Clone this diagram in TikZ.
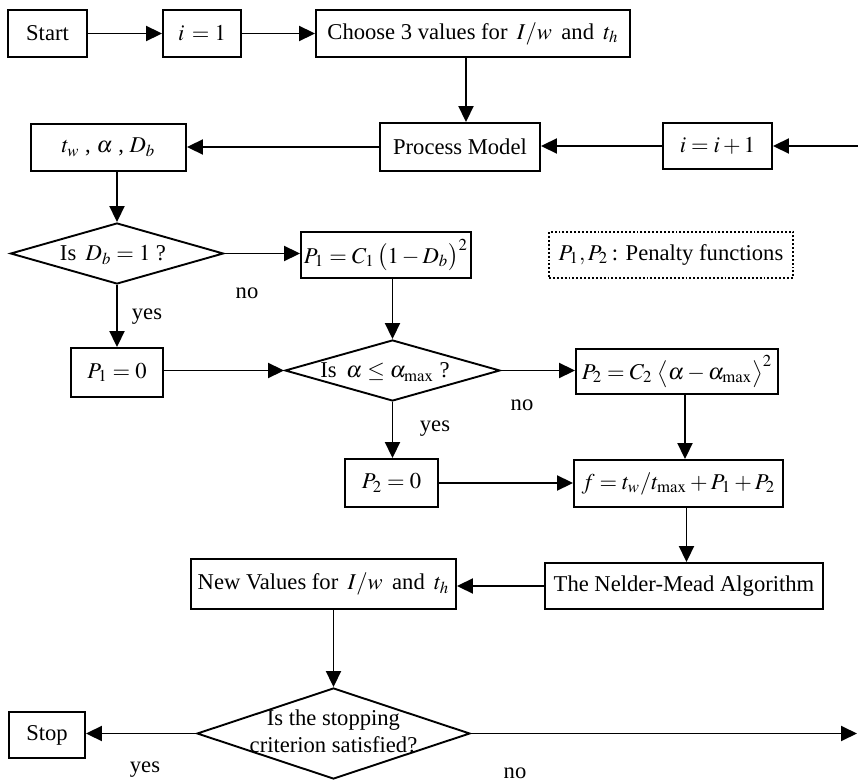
\documentclass[tikz,border=0pt]{standalone}
\usepackage{mathptmx}
\usepackage{fontspec}
\setmainfont{Liberation Serif}
\usetikzlibrary{arrows.meta,shapes.geometric}
\begin{document}
\begin{tikzpicture}[x=0.5pt,y=-0.5pt,
  font=\fontsize{11.3}{13.5}\selectfont,
  line width=0.95pt,
  >={Triangle[length=8pt,width=7.5pt]},
  box/.style={draw,line width=0.95pt,inner sep=0pt,rectangle},
  dia/.style={draw,line width=0.95pt,diamond,inner sep=0pt},
  lbl/.style={inner sep=0pt},
  conn/.style={->,line width=0.95pt}]
\useasboundingbox (0,0) rectangle (858,781);

\node[box,minimum width=39.5pt,minimum height=23.5pt] (start) at (47.5,33.5) {Start};
\node[box,minimum width=39pt,minimum height=23.5pt] (i1) at (202,33.5) {$i\, = 1$};
\node[box,minimum width=157pt,minimum height=23.5pt] (choose) at (473,33.5) {Choose 3 values for \,$I/w$\, and \,$t_h$};
\node[box,minimum width=80pt,minimum height=24pt] (proc) at (460,147) {Process Model};
\node[box,minimum width=54.5pt,minimum height=23pt] (inc) at (717.5,146) {$i = i + 1$};
\node[box,minimum width=77.5pt,minimum height=23.5pt] (tw) at (108.5,147.5) {$t_w$ , $\alpha$ , $D_b$};
\node[dia,minimum width=106.5pt,minimum height=30.5pt] (dia1) at (117,253.5) {};
\node[lbl] (dia1t) at (113,255) {Is \,$D_b = 1$ ?};
\node[box,minimum width=85pt,minimum height=23pt] (p1c) at (386,255) {$P_1 = C_1\,\bigl(1 - D_b\bigr)^2$};
\node[box,densely dotted,minimum width=122pt,minimum height=23pt] (pen) at (671,255) {$P_1, P_2$\,: Penalty functions};
\node[box,minimum width=46pt,minimum height=24.5pt] (p10) at (117,372.5) {$P_1 = 0$};
\node[dia,minimum width=107.5pt,minimum height=30.5pt] (dia2) at (392.5,370.5) {};
\node[lbl] (dia2t) at (385,372) {Is \,$\alpha \le \alpha_{\max}$ ?};
\node[box,minimum width=101pt,minimum height=22.5pt] (p2c) at (677,371.5) {$P_2 = C_2\;\bigl\langle \alpha - \alpha_{\max} \bigr\rangle^2$};
\node[box,minimum width=46.5pt,minimum height=24pt] (p20) at (391.5,483) {$P_2 = 0$};
\node[box,minimum width=104.5pt,minimum height=23.5pt] (f) at (678.5,483.5) {$f = t_w/t_{\max} + P_1 + P_2$};
\node[box,minimum width=139pt,minimum height=23pt] (nm) at (684,586) {The Nelder-Mead Algorithm};
\node[box,minimum width=132.5pt,minimum height=25pt] (nv) at (323.5,584) {New Values for \,$I/w$\, and \,$t_h$};
\node[dia,minimum width=136.5pt,minimum height=45.5pt] (dia3) at (333.5,733.5) {};
\node[lbl,align=center] (dia3t) at (333.5,731) {Is the stopping\\criterion satisfied?};
\node[box,minimum width=38pt,minimum height=23pt] (stop) at (47,735) {Stop};

\node[lbl] (no1) at (247,293) {no};
\node[lbl] (yes1) at (147,317) {yes};
\node[lbl] (no2) at (522,405) {no};
\node[lbl] (yes2) at (435,429) {yes};
\node[lbl] (yes3) at (145,770) {yes};
\node[lbl] (no3) at (515,773) {no};

\coordinate (rin) at (858,146);
\coordinate (rout) at (857,733.5);

\draw[conn] (start.east) -- (i1.west);
\draw[conn] (i1.east) -- (choose.west);
\draw[conn] ([xshift=-3.5pt]choose.south) -- ([xshift=3pt]proc.north);
\draw[conn] (rin) -- (inc.east);
\draw[conn] (inc.west) -- (proc.east |- inc.west);
\draw[conn] (proc.west) -- (tw.east |- proc.west);
\draw[conn] (tw.south -| dia1.north) -- (dia1.north);
\draw[conn] (dia1.east) -- (p1c.west |- dia1.east);
\draw[conn] (p1c.south -| dia2.north) -- (dia2.north);
\draw[conn] (dia1.south) -- (p10.north -| dia1.south);
\draw[conn] (p10.east |- dia2.west) -- (dia2.west);
\draw[conn] (dia2.east) -- (p2c.west |- dia2.east);
\draw[conn] (dia2.south) -- (p20.north -| dia2.south);
\draw[conn] (p20.east) -- (f.west |- p20.east);
\draw[conn] ([xshift=4pt]p2c.south) -- ([xshift=4pt]p2c.south |- f.north);
\draw[conn] ([xshift=4pt]f.south) -- ([xshift=4pt]f.south |- nm.north);
\draw[conn] (nm.west) -- (nv.east |- nm.west);
\draw[conn] (nv.south -| dia3.north) -- (dia3.north);
\draw[conn] (dia3.west) -- (stop.east |- dia3.west);
\draw[conn] (dia3.east) -- (rout);
\end{tikzpicture}
\end{document}
